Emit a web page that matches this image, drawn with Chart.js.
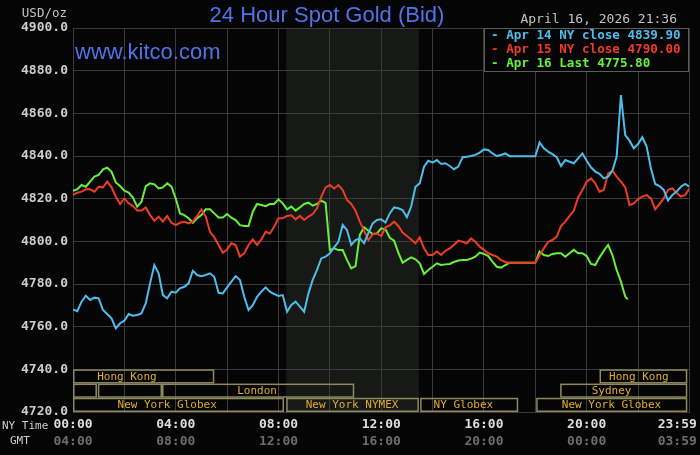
<!DOCTYPE html>
<html>
<head>
<meta charset="utf-8">
<title>24 Hour Spot Gold (Bid)</title>
<script src="https://cdn.jsdelivr.net/npm/chart.js@4.4.1/dist/chart.umd.min.js"></script>
<style>
  html, body { margin: 0; padding: 0; background: #050505; }
  #chart { display: block; }
</style>
</head>
<body>
<canvas id="chart" width="700" height="455"></canvas>
<script>
// --- data (NY time, minutes after midnight, one value every 10 min) ---
const STEP_MIN = 10;

const apr14 = [
  4768.1, 4767.3, 4771.7, 4774.5, 4772.5, 4773.6, 4773.3, 4767.8, 4765.9, 4763.9,
  4759.2, 4761.6, 4762.8, 4765.9, 4765.1, 4765.5, 4766.2, 4771.0, 4780.3, 4788.9,
  4785.0, 4774.8, 4773.3, 4776.4, 4775.9, 4778.0, 4778.7, 4780.3, 4786.2, 4784.2,
  4783.7, 4784.2, 4785.0, 4783.4, 4775.9, 4775.6, 4778.4, 4781.1, 4783.7, 4781.9,
  4774.0, 4767.8, 4770.1, 4774.0, 4776.4, 4778.4, 4776.4, 4775.3, 4774.4, 4774.8,
  4767.0, 4770.2, 4771.7, 4769.4, 4767.0, 4775.6, 4781.9, 4786.6, 4792.0, 4792.8,
  4794.4, 4797.2, 4799.8, 4807.7, 4805.3, 4798.3, 4800.6, 4801.4, 4799.1, 4803.8,
  4808.4, 4810.0, 4810.3, 4808.8, 4813.1, 4815.9, 4815.5, 4814.7, 4811.3, 4816.3,
  4825.6, 4827.2, 4835.0, 4837.8, 4836.9, 4838.1, 4836.3, 4836.6, 4835.3, 4833.8,
  4835.0, 4839.4, 4839.7, 4840.0, 4840.5, 4841.6, 4843.1, 4842.8, 4841.2, 4840.0,
  4840.5, 4841.2, 4839.9, 4839.9, 4839.9, 4839.9, 4839.9, 4839.9, 4839.9, 4846.4,
  4843.6, 4842.0, 4840.9, 4839.4, 4835.3, 4838.1, 4837.3, 4836.6, 4838.9, 4841.2,
  4837.8, 4834.7, 4832.7, 4831.6, 4829.5, 4830.3, 4833.1, 4839.7, 4868.6, 4849.8,
  4847.2, 4843.6, 4845.6, 4848.8, 4844.4, 4834.2, 4826.9, 4825.9, 4824.1, 4819.1,
  4821.7, 4823.3, 4825.6, 4826.9, 4825.6
];

const apr15 = [
  4821.7, 4822.8, 4823.3, 4824.4, 4824.4, 4823.3, 4825.6, 4825.3, 4828.0, 4825.3,
  4820.9, 4817.5, 4820.1, 4817.8, 4816.5, 4814.4, 4814.4, 4815.9, 4812.3, 4809.7,
  4811.6, 4809.2, 4811.9, 4808.7, 4807.6, 4808.7, 4809.2, 4808.4, 4809.2, 4811.9,
  4815.0, 4811.6, 4804.5, 4801.9, 4798.3, 4794.7, 4796.2, 4799.1, 4798.3, 4792.8,
  4794.4, 4798.3, 4800.9, 4798.3, 4800.9, 4804.5, 4803.7, 4806.9, 4810.8, 4810.8,
  4811.9, 4812.2, 4810.3, 4811.9, 4810.0, 4811.6, 4812.8, 4815.5, 4821.0, 4825.3,
  4826.4, 4824.8, 4826.4, 4824.1, 4819.4, 4817.5, 4814.4, 4809.2, 4805.0, 4800.6,
  4803.4, 4803.7, 4802.5, 4806.6, 4807.5, 4809.2, 4807.2, 4804.1, 4802.5, 4800.9,
  4799.1, 4801.9, 4796.7, 4793.6, 4793.6, 4795.2, 4793.6, 4795.6, 4796.7, 4798.3,
  4800.3, 4799.8, 4799.1, 4801.4, 4799.8, 4797.5, 4796.0, 4794.4, 4793.6, 4792.8,
  4791.2, 4790.3, 4790.0, 4790.0, 4790.0, 4790.0, 4790.0, 4790.0, 4790.0, 4793.6,
  4796.7, 4799.8, 4800.6, 4802.2, 4807.2, 4809.2, 4811.9, 4814.4, 4820.6, 4824.1,
  4828.0, 4829.5, 4827.2, 4823.3, 4824.1, 4831.9, 4833.1, 4830.3, 4828.0, 4825.3,
  4817.0, 4817.8, 4819.7, 4821.0, 4821.7, 4820.1, 4815.0, 4817.5, 4820.1, 4824.1,
  4824.8, 4822.8, 4821.0, 4821.7, 4824.8
];

const apr16 = [
  4823.7, 4824.4, 4826.4, 4825.6, 4828.0, 4830.3, 4831.1, 4833.7, 4834.5, 4832.6,
  4827.6, 4825.9, 4823.7, 4822.8, 4820.5, 4816.2, 4818.6, 4825.9, 4827.2, 4826.7,
  4824.8, 4825.3, 4827.2, 4825.6, 4820.1, 4813.1, 4812.3, 4810.8, 4808.7, 4810.8,
  4812.3, 4815.0, 4815.0, 4813.1, 4811.2, 4811.2, 4812.8, 4811.1, 4810.0, 4807.6,
  4807.2, 4807.2, 4813.9, 4817.5, 4817.0, 4816.5, 4817.5, 4817.5, 4819.7, 4817.8,
  4815.0, 4816.3, 4814.4, 4815.9, 4817.5, 4818.1, 4816.7, 4817.5, 4819.1, 4818.0,
  4795.9, 4796.7, 4795.9, 4795.9, 4791.3, 4787.3, 4788.4, 4803.0, 4806.6, 4805.0,
  4803.4, 4803.7, 4806.1, 4805.6, 4801.7, 4800.3, 4794.7, 4790.0, 4791.3, 4792.5,
  4791.6, 4789.7, 4784.7, 4786.6, 4788.1, 4789.7, 4788.9, 4789.2, 4789.4, 4790.3,
  4791.0, 4791.3, 4791.3, 4791.9, 4792.8, 4794.7, 4794.1, 4793.1, 4790.5, 4788.1,
  4787.7, 4788.9, 4790.0, 4790.0, 4790.0, 4790.0, 4790.0, 4790.0, 4790.0, 4795.2,
  4793.6, 4793.1, 4794.1, 4794.4, 4794.4, 4792.8, 4794.4, 4796.0, 4794.4, 4794.4,
  4793.1, 4789.4, 4788.9, 4792.5, 4795.6, 4798.3, 4793.6, 4786.6, 4781.1, 4774.1
];
const apr16LastMinute = 1296;   // 21:36
const apr16LastValue = 4772.8;

const seriesLabels = ['Apr 14 NY close 4839.90', 'Apr 15 NY close 4790.00', 'Apr 16 Last 4775.80'];
const seriesColors = ['#4fbcee', '#ee3c26', '#68f03c'];

// x axis: grid every 2h, labels every 4h
const gridMinutes = [0, 120, 240, 360, 480, 600, 720, 840, 960, 1080, 1200, 1320, 1439];
const labelMinutes = [0, 240, 480, 720, 960, 1200, 1439];
const nyTimeLabels = ['00:00', '04:00', '08:00', '12:00', '16:00', '20:00', '23:59'];
const gmtTimeLabels = ['04:00', '08:00', '12:00', '16:00', '20:00', '00:00', '03:59'];

// market sessions (row 0 = top), label centred at sessionLabelAt
const sessionNames = ['Hong Kong', '', '', 'London', 'New York Globex', 'New York NYMEX', 'NY Globex', 'New York Globex', 'Sydney', 'Hong Kong'];
const sessionStart = [0, 0, 58, 208, 0, 498, 811, 1082, 1138, 1230];
const sessionEnd   = [330, 56, 208, 657, 493, 808, 1040, 1435, 1435, 1435];
const sessionRow   = [0, 1, 1, 1, 2, 2, 2, 2, 1, 0];
const sessionLabelAt = [126, 0, 0, 430, 220, 652, 912, 1258, 1258, 1322];
const NYMEX = 5;

const MONO = '"DejaVu Sans Mono", "Liberation Mono", monospace';
const SANS = '"Liberation Sans", Arial, sans-serif';
const GRID = '#3b3b3b';

// --- helpers ---
function toPoints(values) {
  return values.map((v, i) => ({ x: i * STEP_MIN, y: v }));
}

function tickText(list, value) {
  const i = labelMinutes.indexOf(value);
  if (i < 0) return '';
  // last label sits left of the right edge
  return i === list.length - 1 ? list[i] + '   ' : list[i];
}

const greenPoints = toPoints(apr16);
greenPoints.push({ x: apr16LastMinute, y: apr16LastValue });

// 1. background + NYMEX shading
const backdrop = {
  id: 'backdrop',
  beforeDraw(chart) {
    const { ctx, chartArea: a, scales: { x } } = chart;
    ctx.save();
    ctx.fillStyle = '#050505';
    ctx.fillRect(0, 0, chart.width, chart.height);
    const x0 = x.getPixelForValue(sessionStart[NYMEX]);
    const x1 = x.getPixelForValue(sessionEnd[NYMEX]);
    ctx.fillStyle = '#161915';
    ctx.fillRect(x0, a.top, x1 - x0, a.bottom - a.top);
    ctx.restore();
  }
};

// 2. session boxes
const sessions = {
  id: 'sessions',
  afterDatasetsDraw(chart) {
    const { ctx, scales: { x, y } } = chart;
    ctx.save();
    ctx.lineWidth = 1.5;
    ctx.strokeStyle = '#8c8a5e';
    ctx.fillStyle = '#e0ae28';
    ctx.font = '11px ' + MONO;
    ctx.textAlign = 'center';
    ctx.textBaseline = 'middle';
    sessionNames.forEach((name, i) => {
      const top = y.getPixelForValue(4740 - sessionRow[i] * 20 / 3);
      const bot = y.getPixelForValue(4740 - (sessionRow[i] + 1) * 20 / 3);
      const x0 = x.getPixelForValue(sessionStart[i]);
      const x1 = x.getPixelForValue(sessionEnd[i]);
      ctx.strokeRect(x0 + 0.75, top + 0.75, x1 - x0 - 1.5, bot - top - 1.5);
      if (name) ctx.fillText(name, x.getPixelForValue(sessionLabelAt[i]), (top + bot) / 2 + 0.5);
    });
    ctx.restore();
  }
};

// 3. titles, legend box, side labels
const decorations = {
  id: 'decorations',
  afterDraw(chart) {
    const { ctx, chartArea: a } = chart;
    ctx.save();
    ctx.textBaseline = 'middle';

    ctx.fillStyle = '#5272ea';
    ctx.font = '22px ' + SANS;
    ctx.textAlign = 'center';
    ctx.fillText('24 Hour Spot Gold (Bid)', 327, 16);
    ctx.textAlign = 'left';
    ctx.fillText('www.kitco.com', 75, 53);

    ctx.fillStyle = '#c4c4c4';
    ctx.font = '13px ' + MONO;
    ctx.textAlign = 'right';
    ctx.fillText('April 16, 2026 21:36', 677, 20);
    ctx.font = '12.5px ' + MONO;
    ctx.fillText('USD/oz', 67, 14);

    ctx.textAlign = 'left';
    ctx.font = '11px ' + MONO;
    ctx.fillStyle = '#cfcfcf';
    ctx.fillText('NY Time', 2, 426);
    ctx.fillText('GMT', 10, 441);

    // legend box
    const lx = a.right - 205, ly = a.top, lw = 205, lh = 44;
    ctx.fillStyle = '#050505';
    ctx.fillRect(lx, ly, lw, lh);
    ctx.strokeStyle = '#5c5c5c';
    ctx.lineWidth = 1;
    ctx.strokeRect(lx + 0.5, ly + 0.5, lw - 1, lh - 1);
    ctx.font = 'bold 12.6px ' + MONO;
    chart.data.datasets.forEach((ds, i) => {
      ctx.fillStyle = ds.borderColor;
      ctx.fillText('- ' + ds.label, lx + 7, ly + 8 + i * 14);
    });
    ctx.restore();
  }
};

const tickFont = { family: MONO, size: 13, weight: 'bold', lineHeight: 1.2 };

new Chart(document.getElementById('chart'), {
  type: 'line',
  data: {
    datasets: [
      { label: seriesLabels[0], data: toPoints(apr14), borderColor: seriesColors[0] },
      { label: seriesLabels[1], data: toPoints(apr15), borderColor: seriesColors[1] },
      { label: seriesLabels[2], data: greenPoints, borderColor: seriesColors[2] }
    ].map(ds => Object.assign(ds, { borderWidth: 2, pointRadius: 0, tension: 0, fill: false }))
  },
  options: {
    responsive: false,
    animation: false,
    events: [],
    layout: { padding: { top: 28, right: 11, bottom: 6, left: 0 } },
    plugins: { legend: { display: false }, tooltip: { enabled: false } },
    scales: {
      x: {
        type: 'linear', min: 0, max: 1439, weight: 0,
        afterBuildTicks: s => { s.ticks = gridMinutes.map(v => ({ value: v })); },
        afterFit: s => { s.paddingLeft = 0; s.paddingRight = 0; s.height = 21; },
        grid: { color: GRID, lineWidth: 1, drawTicks: false },
        border: { color: GRID },
        ticks: {
          autoSkip: false, maxRotation: 0, padding: 5, color: '#dedede', font: tickFont,
          callback: v => tickText(nyTimeLabels, v)
        }
      },
      x2: {
        type: 'linear', position: 'bottom', min: 0, max: 1439, weight: 1,
        afterBuildTicks: s => { s.ticks = gridMinutes.map(v => ({ value: v })); },
        afterFit: s => { s.paddingLeft = 0; s.paddingRight = 0; s.height = 16; },
        grid: { display: false, drawTicks: false },
        border: { display: false },
        ticks: {
          autoSkip: false, maxRotation: 0, padding: 1, color: '#6c6c6c', font: tickFont,
          callback: v => tickText(gmtTimeLabels, v)
        }
      },
      y: {
        min: 4720, max: 4900,
        afterFit: s => { s.width = 73; },
        grid: { color: GRID, lineWidth: 1, drawTicks: false },
        border: { color: GRID },
        ticks: {
          stepSize: 20, padding: 5, color: '#cccccc', font: tickFont,
          callback: v => v.toFixed(1)
        }
      }
    }
  },
  plugins: [backdrop, sessions, decorations]
});
</script>
</body>
</html>
